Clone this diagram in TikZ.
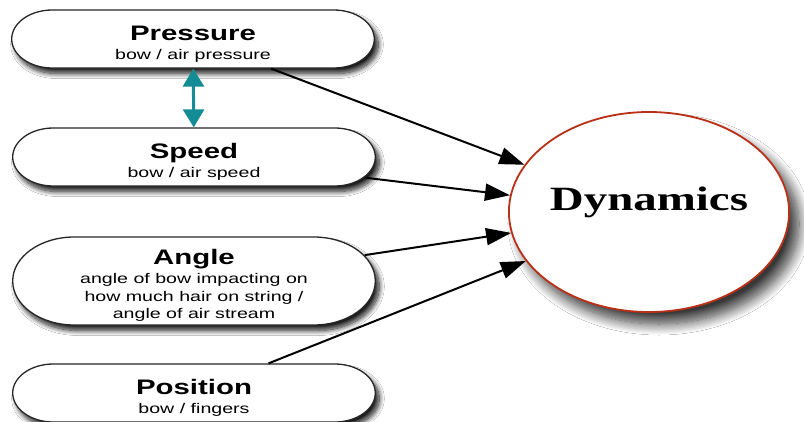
\documentclass[tikz,border=0pt]{standalone}
\usepackage{fontspec}
\setmainfont{Liberation Serif}
\setsansfont{Liberation Sans}
\usetikzlibrary{shapes.misc,shapes.geometric,arrows.meta,shadows.blur}
\definecolor{dynred}{RGB}{185,48,22}
\definecolor{tealarrow}{RGB}{20,140,150}
\newcommand{\pilltitle}[1]{{\fontsize{21}{21}\selectfont\bfseries\rule{0pt}{24pt}#1}}
\begin{document}
\begin{tikzpicture}[x=1pt,y=-1pt,
  pill/.style={rounded rectangle, draw=black!85, line width=1.3pt, fill=white,
    xscale=1.4, minimum width=259pt, minimum height=58pt, inner sep=0pt,
    align=center, font=\sffamily\fontsize{14}{17.5}\selectfont,
    blur shadow={shadow xshift=4pt, shadow yshift=-5.5pt, shadow blur radius=5pt,
      shadow blur steps=12, shadow opacity=90}},
  dynnode/.style={ellipse, draw=dynred, line width=1.8pt, fill=white,
    minimum width=278pt, minimum height=200pt, inner sep=0pt,
    blur shadow={shadow xshift=10pt, shadow yshift=-12pt, shadow blur radius=11pt,
      shadow blur steps=16, shadow opacity=78}},
  arr/.style={-{Triangle[length=25pt,width=17pt]}, line width=2pt, black},
  tealarr/.style={{Triangle[length=18pt,width=21pt]}-{Triangle[length=18pt,width=21pt]},
    line width=3pt, tealarrow}
]
\useasboundingbox (0,0) rectangle (804,421);
\fill[white] (0,0) rectangle (804,421);

\node[pill] (pressure) at (193,39) {\pilltitle{Pressure}\\[1.5pt] bow / air pressure};
\node[pill] (speed) at (194,157) {\pilltitle{Speed}\\[1.5pt] bow / air speed};
\node[pill, minimum height=88pt] (angle) at (194,281)
  {\pilltitle{Angle}\\[1.5pt] angle of bow impacting on\\ how much hair on string /\\ angle of air stream};
\node[pill] (position) at (194,393) {\pilltitle{Position}\\[1.5pt] bow / fingers};

\node[dynnode, text height=23pt, text depth=27pt] (dyn) at (649,212)
  {\scalebox{1.38}[1]{\fontsize{34}{34}\selectfont\bfseries Dynamics}};

\draw[arr] (pressure) -- (dyn);
\draw[arr] (speed) -- (dyn);
\draw[arr] (angle) -- (dyn);
\draw[arr] (position) -- (dyn);
\draw[tealarr] (pressure) -- (speed);
\end{tikzpicture}
\end{document}
